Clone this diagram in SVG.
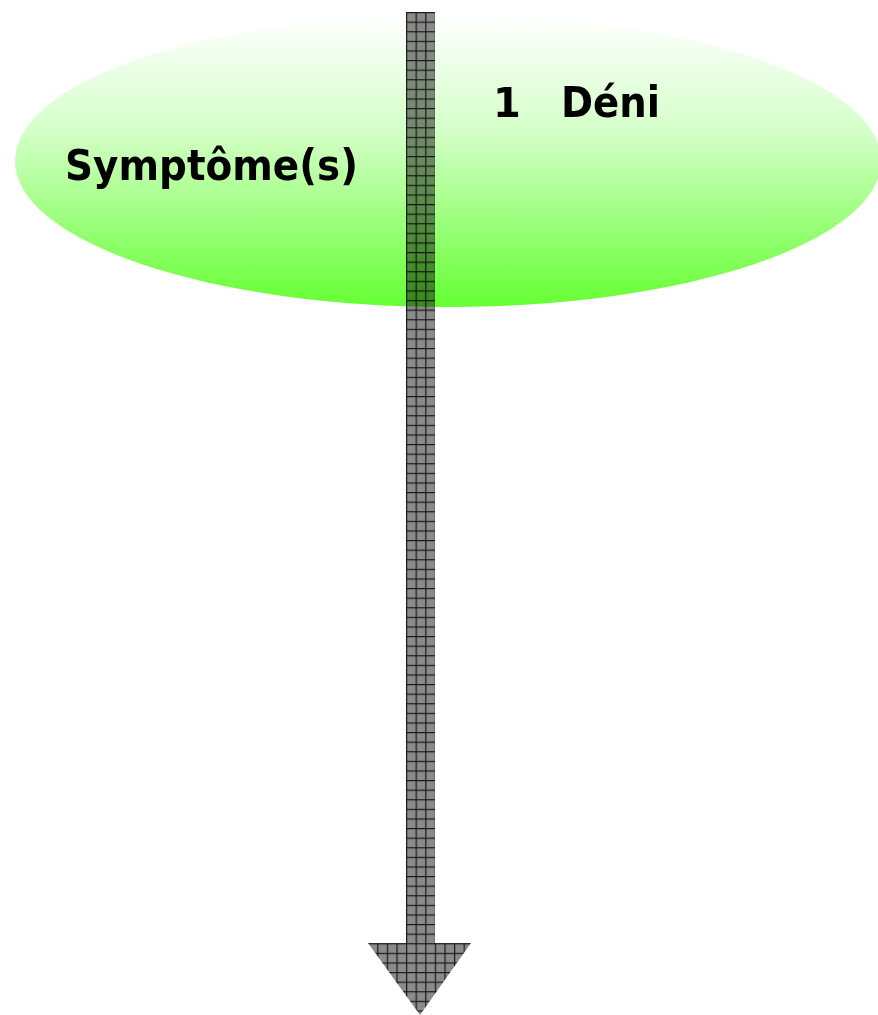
<svg xmlns="http://www.w3.org/2000/svg" width="878" height="1015" viewBox="0 0 878 1015">
<style>
.lbl{font-family:"Comic Sans MS","DejaVu Sans",sans-serif;font-weight:bold;fill:#000;}
</style>
<defs>
<linearGradient id="g" x1="0" y1="0" x2="0" y2="1">
<stop offset="0" stop-color="#ffffff"/>
<stop offset="0.4" stop-color="#d4ffc8"/>
<stop offset="1" stop-color="#66ff33"/>
</linearGradient>
<pattern id="grid" x="406" y="12" width="9.6" height="9.6" patternUnits="userSpaceOnUse">
<rect width="9.6" height="9.6" fill="#8a8a8a"/>
<path d="M0 0.6H9.6M0.6 0V9.6" stroke="#1a1a1a" stroke-width="1.2"/>
</pattern>
</defs>
<rect width="878" height="1015" fill="#fff"/>
<g id="ellipse-node">
<ellipse cx="448" cy="161" rx="433" ry="146" fill="url(#g)"/>
</g>
<g id="connectors">
<path d="M406 12H435V943H471L420 1015L368 943H406Z" fill="url(#grid)" style="mix-blend-mode:multiply"/>
</g>
<g id="labels">
<text class="lbl" x="65" y="180" font-size="42" textLength="293" lengthAdjust="spacingAndGlyphs">Symptôme(s)</text>
<text class="lbl" x="493" y="117" font-size="40">1</text>
<text class="lbl" x="561" y="117" font-size="42" textLength="99" lengthAdjust="spacingAndGlyphs">Déni</text>
</g>
</svg>
